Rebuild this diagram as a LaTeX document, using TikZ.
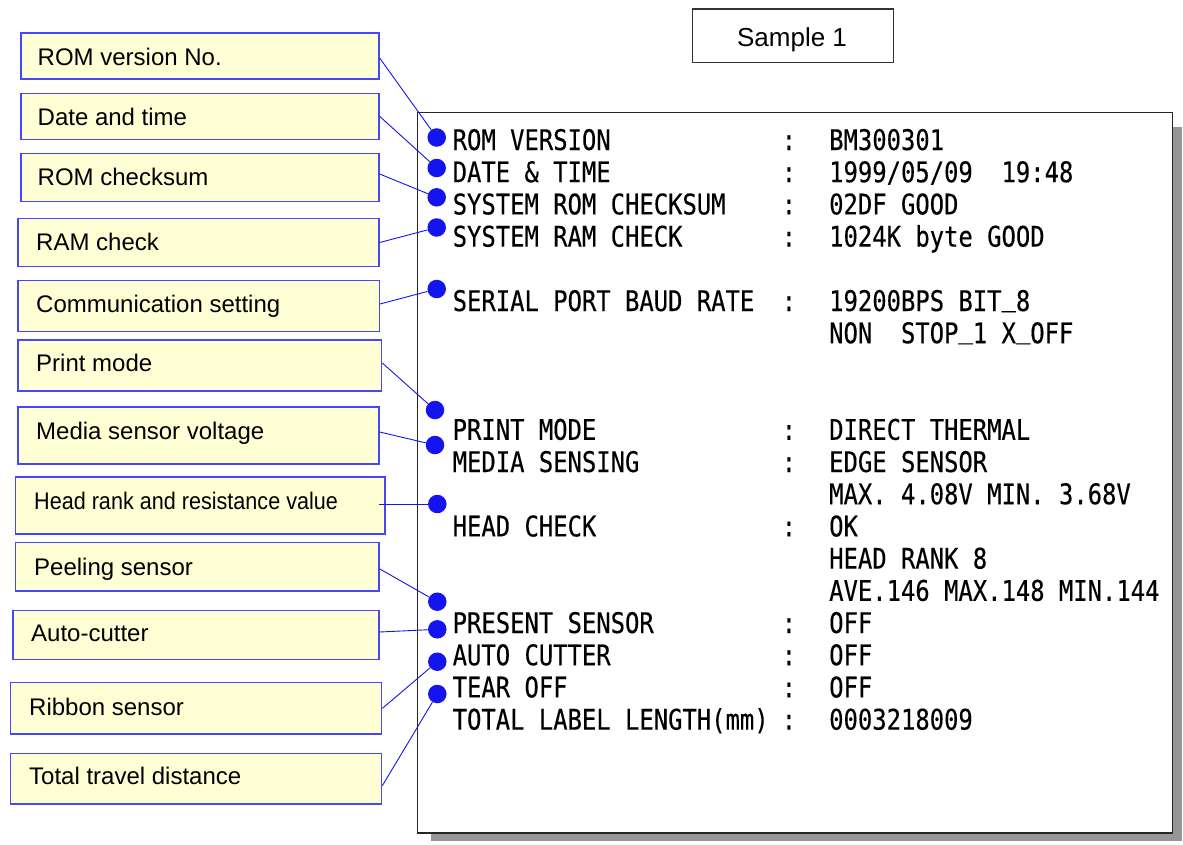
\documentclass[tikz,border=0pt]{standalone}
\usepackage{fontspec}
\setmainfont{Liberation Sans}
\newfontfamily\narrowfont[FakeStretch=0.9]{Liberation Sans}
\newfontfamily\prtfont[FakeStretch=0.84,FakeBold=0.3]{DejaVu Sans Mono}
\newcommand{\usc}{\raisebox{5.5pt}{\char95}}
\usetikzlibrary{fit}
\definecolor{boxfill}{RGB}{255,255,214}
\definecolor{boxline}{RGB}{70,70,250}
\definecolor{dotblue}{RGB}{20,20,240}
\definecolor{shadowgray}{RGB}{150,150,150}
\begin{document}
\begin{tikzpicture}[x=1pt,y=-1pt,
  lbox/.style={draw=boxline, fill=boxfill, line width=1.3pt, inner sep=0pt},
  ltext/.style={anchor=base west, inner sep=0pt, font=\fontsize{24}{28}\selectfont},
  prt/.style={anchor=base west, inner sep=0pt, font=\prtfont\fontsize{28.4}{32}\selectfont},
  colon/.style={anchor=base, inner sep=0pt, font=\prtfont\fontsize{28.4}{32}\selectfont},
  conn/.style={draw=dotblue, line width=0.9pt},
  bdot/.style={circle, fill=dotblue, minimum size=18.5pt, inner sep=0pt},
]
\useasboundingbox (0,0) rectangle (1183,844);

% sample title
\node[draw=black!80, line width=1.3pt, inner sep=0pt, fit={(692.7,9) (893.3,62.3)}] (sample) {};
\node[anchor=base, inner sep=0pt, font=\fontsize{26}{30}\selectfont] (sampletext) at (792,46.7) {Sample 1};

% printout sheet with shadow
\fill[shadowgray] (431,127) rectangle (1182,841);
\node[draw=black!85, fill=white, line width=1.3pt, inner sep=0pt, fit={(417.5,112.7) (1172.5,833)}] (sheet) {};

% label boxes
\node[lbox, fit={(21,33) (379,79)}] (b1) {};
\node[lbox, fit={(21,93.3) (379,139.3)}] (b2) {};
\node[lbox, fit={(21,153.3) (379,201.7)}] (b3) {};
\node[lbox, fit={(18,218.3) (379,266.7)}] (b4) {};
\node[lbox, fit={(18,280.7) (379.3,331.3)}] (b5) {};
\node[lbox, fit={(18,340) (381.7,391)}] (b6) {};
\node[lbox, fit={(18,407) (379,464)}] (b7) {};
\node[lbox, fit={(15.7,477) (385,534)}] (b8) {};
\node[lbox, fit={(15.7,542.7) (379,591)}] (b9) {};
\node[lbox, fit={(13,610.7) (379,659.3)}] (b10) {};
\node[lbox, fit={(10.3,682.7) (381.7,734)}] (b11) {};
\node[lbox, fit={(10.3,753.3) (381.7,804)}] (b12) {};

\node[ltext] (t1) at (37.5,65) {ROM version No.};
\node[ltext] (t2) at (37.5,125) {Date and time};
\node[ltext] (t3) at (37.5,185) {ROM checksum};
\node[ltext] (t4) at (36,250) {RAM check};
\node[ltext] (t5) at (36,312.3) {Communication setting};
\node[ltext] (t6) at (36,371.7) {Print mode};
\node[ltext] (t7) at (36,439) {Media sensor voltage};
\node[ltext, font=\narrowfont\fontsize{24}{28}\selectfont] (t8) at (34,509) {Head rank and resistance value};
\node[ltext] (t9) at (34,575) {Peeling sensor};
\node[ltext] (t10) at (31,641.7) {Auto-cutter};
\node[ltext] (t11) at (29,715) {Ribbon sensor};
\node[ltext] (t12) at (29,784) {Total travel distance};

% printout text
\node[prt] (l0) at (452.5,150) {ROM VERSION};
\node[colon] (c0) at (789,150) {:};
\node[prt] (v0) at (829,150) {BM300301};
\node[prt] (l1) at (452.5,182.2) {DATE \& TIME};
\node[colon] (c1) at (789,182.2) {:};
\node[prt] (v1) at (829,182.2) {1999/05/09~~19:48};
\node[prt] (l2) at (452.5,214.4) {SYSTEM ROM CHECKSUM};
\node[colon] (c2) at (789,214.4) {:};
\node[prt] (v2) at (829,214.4) {02DF GOOD};
\node[prt] (l3) at (452.5,246.6) {SYSTEM RAM CHECK};
\node[colon] (c3) at (789,246.6) {:};
\node[prt] (v3) at (829,246.6) {1024K byte GOOD};
\node[prt] (l5) at (452.5,311) {SERIAL PORT BAUD RATE};
\node[colon] (c5) at (789,311) {:};
\node[prt] (v5) at (829,311) {19200BPS BIT\usc 8};
\node[prt] (v6) at (829,343.2) {NON~~STOP\usc 1 X\usc OFF};
\node[prt] (l9) at (452.5,439.8) {PRINT MODE};
\node[colon] (c9) at (789,439.8) {:};
\node[prt] (v9) at (829,439.8) {DIRECT THERMAL};
\node[prt] (l10) at (452.5,472) {MEDIA SENSING};
\node[colon] (c10) at (789,472) {:};
\node[prt] (v10) at (829,472) {EDGE SENSOR};
\node[prt] (v11) at (829,504.2) {MAX. 4.08V MIN. 3.68V};
\node[prt] (l12) at (452.5,536.4) {HEAD CHECK};
\node[colon] (c12) at (789,536.4) {:};
\node[prt] (v12) at (829,536.4) {OK};
\node[prt] (v13) at (829,568.6) {HEAD RANK 8};
\node[prt] (v14) at (829,600.8) {AVE.146 MAX.148 MIN.144};
\node[prt] (l15) at (452.5,633) {PRESENT SENSOR};
\node[colon] (c15) at (789,633) {:};
\node[prt] (v15) at (829,633) {OFF};
\node[prt] (l16) at (452.5,665.2) {AUTO CUTTER};
\node[colon] (c16) at (789,665.2) {:};
\node[prt] (v16) at (829,665.2) {OFF};
\node[prt] (l17) at (452.5,697.4) {TEAR OFF};
\node[colon] (c17) at (789,697.4) {:};
\node[prt] (v17) at (829,697.4) {OFF};
\node[prt] (l18) at (452.5,729.6) {TOTAL LABEL LENGTH(mm)};
\node[colon] (c18) at (789,729.6) {:};
\node[prt] (v18) at (829,729.6) {0003218009};

% dots
\node[bdot] (d1) at (436.7,137.5) {};
\node[bdot] (d2) at (436.7,168) {};
\node[bdot] (d3) at (436.7,197.3) {};
\node[bdot] (d4) at (436.7,227.5) {};
\node[bdot] (d5) at (436.7,289) {};
\node[bdot] (d6) at (435,410) {};
\node[bdot] (d7) at (435,445) {};
\node[bdot] (d8) at (437.3,504) {};
\node[bdot] (d9) at (437.3,601.7) {};
\node[bdot] (d10) at (437.3,629.3) {};
\node[bdot] (d11) at (437.3,661.7) {};
\node[bdot] (d12) at (437.3,694) {};

% connectors
\draw[conn] ([yshift=-2pt]b1.east) -- (d1);
\draw[conn] (b2.east) -- (d2);
\draw[conn] ([yshift=3.5pt]b3.east) -- (d3);
\draw[conn] (b4.east) -- (d4);
\draw[conn] ([yshift=2pt]b5.east) -- (d5);
\draw[conn] ([yshift=2.5pt]b6.east) -- (d6);
\draw[conn] ([yshift=3.5pt]b7.east) -- (d7);
\draw[conn] ([xshift=-7pt,yshift=1.5pt]b8.east) -- (d8);
\draw[conn] ([yshift=-2pt]b9.east) -- (d9);
\draw[conn] ([yshift=3pt]b10.east) -- (d10);
\draw[conn] (b11.east) -- (d11);
\draw[conn] ([yshift=-7pt]b12.east) -- (d12);
\end{tikzpicture}
\end{document}
